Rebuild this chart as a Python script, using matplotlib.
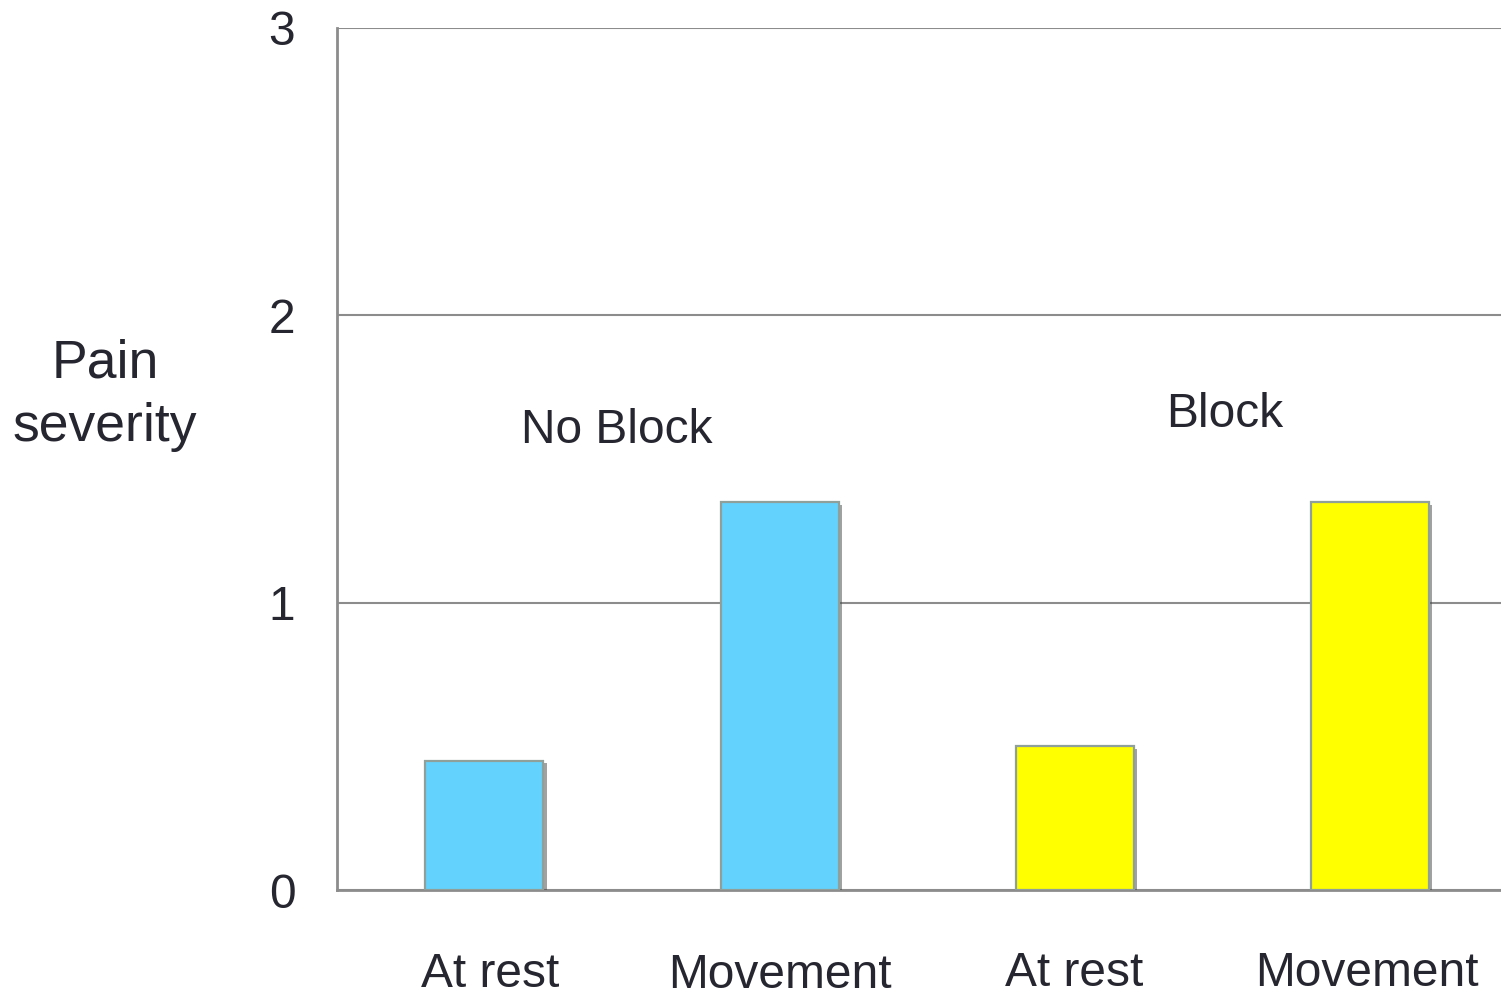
import matplotlib.pyplot as plt
import matplotlib.patheffects as pe

plt.rcParams['font.family'] = ['Liberation Sans', 'DejaVu Sans']

categories = ["At rest", "Movement", "At rest", "Movement"]
severity = [0.45, 1.35, 0.50, 1.35]
bar_colors = ["#63d3fe", "#63d3fe", "#ffff00", "#ffff00"]
group_labels = ["No Block", "Block"]
yticks = [0, 1, 2, 3]

text_color = "#262630"
line_color = "#8c8c8c"
fs = 34.5

fig = plt.figure(figsize=(15.01, 9.96), dpi=100)
ax = fig.add_axes([0.2245, 0.1064, 0.7862, 0.8655])

x = range(len(categories))
bars = ax.bar(x, severity, width=0.4, color=bar_colors, edgecolor="#8f9f99",
              linewidth=1.6, zorder=3)
for b in bars:
    b.set_path_effects([pe.SimplePatchShadow(offset=(2.5, -2), shadow_rgbFace="#444444", alpha=0.5),
                        pe.Normal()])

ax.set_xlim(-0.5, 3.5)
ax.set_ylim(0, 3)
ax.set_yticks(yticks)
ax.set_yticklabels([str(v) for v in yticks], fontsize=fs, color=text_color)
ax.tick_params(axis='y', length=0, pad=30)
ax.set_xticks([])

ax.grid(axis='y', color=line_color, linewidth=1.5, zorder=0)
for side in ['top', 'right']:
    ax.spines[side].set_visible(False)
for side in ['left', 'bottom']:
    ax.spines[side].set_color(line_color)
    ax.spines[side].set_linewidth(2)

# category labels under each bar
label_y = [-0.295, -0.298, -0.29, -0.29]
label_dx = [0.02, 0.0, 0.0, -0.01]
for xi, (lab, ly, dx) in enumerate(zip(categories, label_y, label_dx)):
    ax.text(xi + dx, ly, lab, ha='center', va='center',
            fontsize=fs, color=text_color, clip_on=False)

# group captions
ax.text(0.45, 1.60, group_labels[0], ha='center', va='center', fontsize=fs, color=text_color)
ax.text(2.51, 1.655, group_labels[1], ha='center', va='center', fontsize=fs, color=text_color)

fig.text(0.07, 0.603, "Pain\nseverity", ha='center', va='center', fontsize=38.5,
         color=text_color, linespacing=1.35)

fig.savefig("out.png", dpi=100)
